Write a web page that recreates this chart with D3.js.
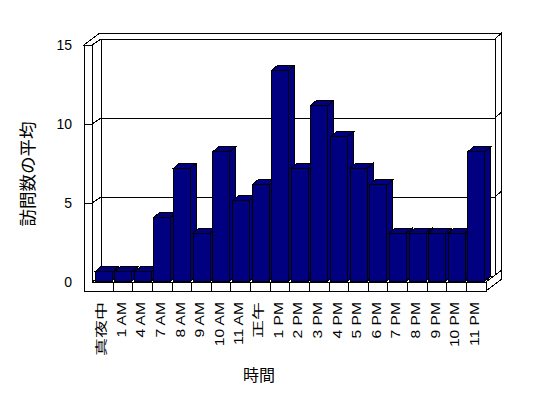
<!DOCTYPE html>
<html><head><meta charset="utf-8">
<script src="https://cdn.jsdelivr.net/npm/d3@7"></script>
<style>
html,body{margin:0;padding:0;background:#fff;}
svg{display:block;}
</style>
</head><body>
<script>
// ---- data ----
const categories = ["真夜中","1 AM","4 AM","7 AM","8 AM","9 AM","10 AM","11 AM","正午","1 PM","2 PM","3 PM","4 PM","5 PM","6 PM","7 PM","8 PM","9 PM","10 PM","11 PM"];
const visits = [0.65,0.65,0.65,4.1,7.2,3.1,8.25,5.15,6.15,13.4,7.2,11.2,9.2,7.2,6.15,3.1,3.1,3.1,3.1,8.25];
const yTicks = [0,5,10,15];
const yTitle = "訪問数の平均";
const xTitle = "時間";

// ---- layout ----
const W = 548, H = 398;
const svg = d3.select("body").append("svg").attr("width", W).attr("height", H);
const x = d3.scaleBand().domain(categories).range([93.5, 486]);
const y = d3.scaleLinear().domain([0, 15]).range([282, 45]);
const bw = x.bandwidth();
const wallL = 84, wallR = 92, floorBot = 291, xR = 486;
const D1 = [9, -6];      // front plane -> inner face of back wall
const D2 = [15, -11.5];  // front plane -> outer face of back wall
const BD = [6, -5];      // bar depth
const y0 = y(0), yTop = y(15);
const stroke = "#000", sw = 1;

const g = svg.append("g").attr("shape-rendering", "crispEdges");
const poly = (pts, fill) => g.append("polygon")
  .attr("points", pts.map(p => p.join(",")).join(" "))
  .attr("fill", fill).attr("stroke", stroke).attr("stroke-width", sw)
  .attr("stroke-linejoin", "miter");
const line = (x1, y1, x2, y2) => g.append("line")
  .attr("x1", x1).attr("y1", y1).attr("x2", x2).attr("y2", y2)
  .attr("stroke", stroke).attr("stroke-width", sw);

// back wall right strip
poly([[xR + D1[0], yTop + D1[1]], [xR + D2[0], yTop + D2[1]], [xR + D2[0], floorBot + D2[1]], [xR + D1[0], y0 + D1[1]]], "#fff");
// back wall inner face
poly([[wallR + D1[0], yTop + D1[1]], [xR + D1[0], yTop + D1[1]], [xR + D1[0], y0 + D1[1]], [wallR + D1[0], y0 + D1[1]]], "#fff");
// left wall inner face
poly([[wallR, yTop], [wallR + D1[0], yTop + D1[1]], [wallR + D1[0], y0 + D1[1]], [wallR, y0]], "#fff");
// top face of walls
poly([[wallL, yTop], [wallR, yTop], [wallR + D1[0], yTop + D1[1]], [xR + D1[0], yTop + D1[1]], [xR + D2[0], yTop + D2[1]], [wallL + D2[0], yTop + D2[1]]], "#fff");

// gridlines
yTicks.filter(t => t > 0 && t < 15).forEach(t => {
  const yy = y(t);
  line(wallL, yy, wallR, yy);
  line(wallR, yy, wallR + D1[0], yy + D1[1]);
  line(wallR + D1[0], yy + D1[1], xR + D1[0], yy + D1[1]);
  line(xR + D1[0], yy + D1[1], xR + D2[0], yy + D2[1]);
});

// floor top
poly([[wallR, y0], [xR, y0], [xR + D1[0], y0 + D1[1]], [wallR + D1[0], y0 + D1[1]]], "#fff");
// floor right face
poly([[xR, y0], [xR, floorBot], [xR + D2[0], floorBot + D2[1]], [xR + D2[0], y0 + D2[1]]], "#fff");
// left wall + floor front face (L shape)
poly([[wallL, yTop], [wallR, yTop], [wallR, y0], [xR, y0], [xR, floorBot], [wallL, floorBot]], "#fff");
// wall front tick lines
yTicks.filter(t => t > 0 && t < 15).forEach(t => line(wallL, y(t), wallR, y(t)));
// floor front cell dividers
categories.forEach((c, i) => { if (i > 0) line(x(c), y0, x(c), floorBot); });

// bars
const barW = bw * 0.87;
const barColor = "#000080";
categories.forEach((c, i) => {
  const x0 = x(c) + 1.5, x1 = x0 + barW;
  const top = y(visits[i]), bot = y0 - 1;
  poly([[x1, top], [x1 + BD[0], top + BD[1]], [x1 + BD[0], bot + BD[1]], [x1, bot]], barColor);
  poly([[x0, top], [x1, top], [x1 + BD[0], top + BD[1]], [x0 + BD[0], top + BD[1]]], barColor);
  poly([[x0, top], [x1, top], [x1, bot], [x0, bot]], barColor);
});

// y tick labels
svg.append("g").selectAll("text").data(yTicks).join("text")
  .attr("x", 72).attr("y", d => y(d)).attr("dy", "0.35em")
  .attr("text-anchor", "end")
  .attr("font-family", "'Liberation Sans', Arial, sans-serif")
  .attr("font-size", 14).attr("fill", "#000")
  .text(d => d);

// x tick labels
const isCJK = s => /[^\x00-\x7F]/.test(s);
svg.append("g").selectAll("text").data(categories).join("text")
  .attr("transform", d => `translate(${x(d) + bw / 2 - 1.5},302) rotate(-90) scale(${isCJK(d) ? 1.5 : 1.3},1)`)
  .attr("dy", "0.35em")
  .attr("text-anchor", "end")
  .attr("font-family", d => isCJK(d) ? "'Noto Sans CJK JP', sans-serif" : "'Liberation Sans', Arial, sans-serif")
  .attr("font-size", 12).attr("fill", "#000")
  .text(d => d);

// axis titles
svg.append("text")
  .attr("transform", "translate(28,174) rotate(-90)")
  .attr("text-anchor", "middle").attr("dy", "0.35em")
  .attr("font-family", "'Noto Sans CJK JP', sans-serif")
  .attr("font-size", 17.5).attr("fill", "#000")
  .text(yTitle);
svg.append("text")
  .attr("x", 259).attr("y", 375).attr("dy", "0.35em")
  .attr("text-anchor", "middle")
  .attr("font-family", "'Noto Sans CJK JP', sans-serif")
  .attr("font-size", 16).attr("fill", "#000")
  .text(xTitle);
</script>
</body></html>
